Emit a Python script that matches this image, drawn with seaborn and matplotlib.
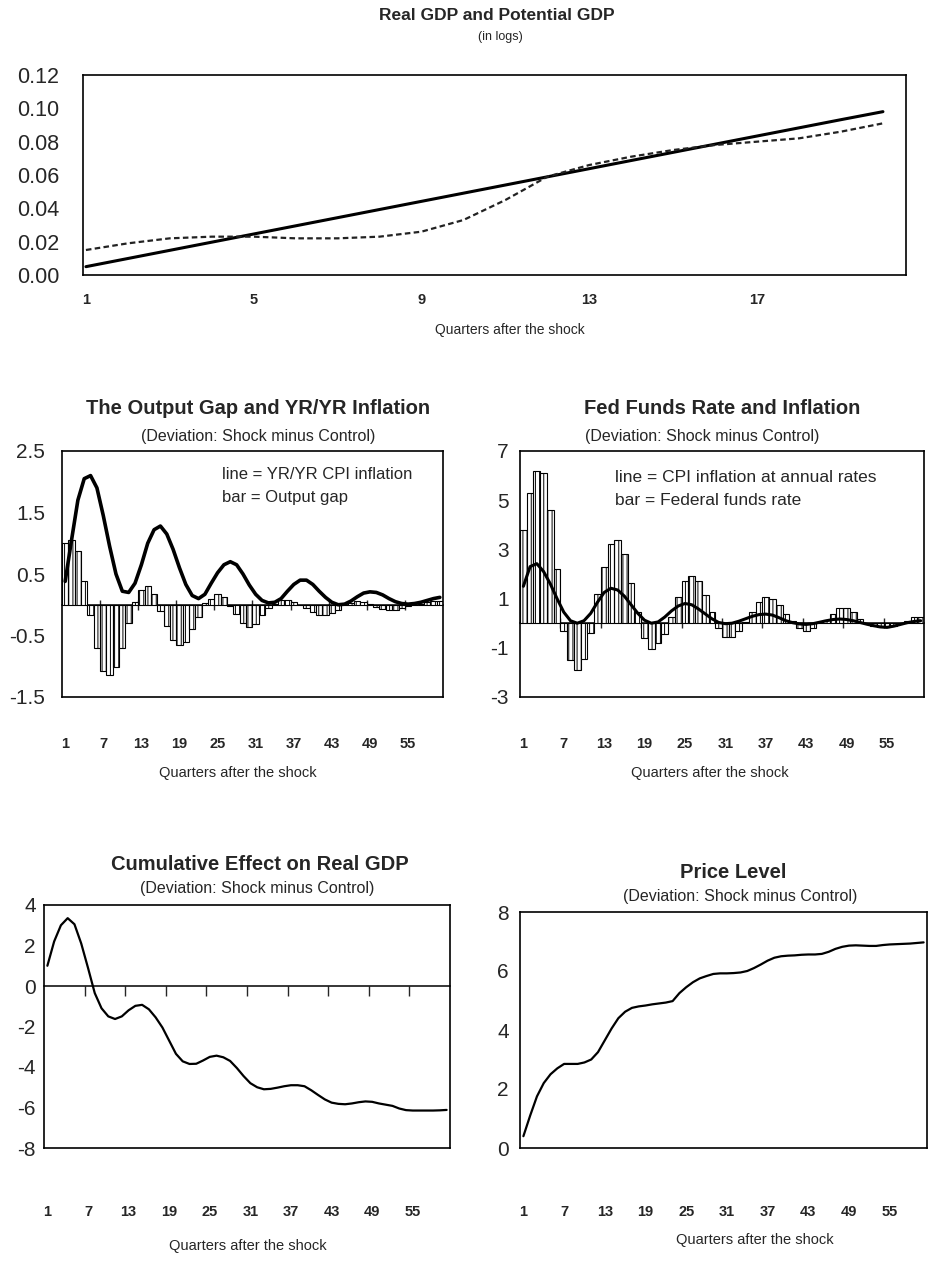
import matplotlib
matplotlib.use("Agg")
import matplotlib.pyplot as plt
import seaborn as sns
from matplotlib.ticker import FormatStrFormatter, FixedLocator

# ---------------- data ----------------
top_quarters = list(range(1, 21))
potential_gdp = [0.005, 0.0099, 0.0148, 0.0197, 0.0246, 0.0295, 0.0344, 0.0393, 0.0442, 0.0491,
                 0.054, 0.0589, 0.0638, 0.0687, 0.0736, 0.0785, 0.0834, 0.0883, 0.0932, 0.098]
real_gdp = [0.015, 0.019, 0.022, 0.023, 0.023, 0.022, 0.022, 0.023, 0.026, 0.033,
            0.045, 0.059, 0.066, 0.071, 0.075, 0.078, 0.080, 0.082, 0.086, 0.091]
top_tick_labels = ["1", "5", "9", "13", "17"]

quarters = list(range(1, 61))
quarter_tick_labels = ["1", "7", "13", "19", "25", "31", "37", "43", "49", "55"]

output_gap = [1.0, 1.05, 0.88, 0.38, -0.17, -0.7, -1.07, -1.15, -1.02, -0.7,
              -0.3, 0.05, 0.24, 0.3, 0.17, -0.1, -0.34, -0.58, -0.65, -0.6,
              -0.4, -0.2, 0.03, 0.1, 0.17, 0.13, -0.02, -0.15, -0.29, -0.36,
              -0.32, -0.16, -0.05, 0.02, 0.07, 0.08, 0.05, 0.0, -0.05, -0.11,
              -0.16, -0.17, -0.14, -0.08, -0.01, 0.03, 0.06, 0.05, 0.01, -0.03,
              -0.07, -0.08, -0.08, -0.05, -0.02, 0.0, 0.02, 0.04, 0.06, 0.06]
yy_cpi_inflation = [0.38, 1.05, 1.7, 2.05, 2.1, 1.9, 1.45, 0.95, 0.5, 0.22,
                    0.2, 0.35, 0.65, 1.0, 1.22, 1.28, 1.15, 0.9, 0.6, 0.33,
                    0.15, 0.1, 0.17, 0.35, 0.52, 0.65, 0.7, 0.65, 0.5, 0.32,
                    0.17, 0.07, 0.03, 0.04, 0.1, 0.22, 0.33, 0.4, 0.4, 0.33,
                    0.22, 0.12, 0.04, 0.0, 0.01, 0.06, 0.13, 0.19, 0.21, 0.2,
                    0.16, 0.1, 0.05, 0.02, 0.01, 0.02, 0.04, 0.07, 0.1, 0.12]
fed_funds = [3.8, 5.3, 6.2, 6.1, 4.6, 2.2, -0.3, -1.5, -1.9, -1.45,
             -0.4, 1.2, 2.3, 3.2, 3.4, 2.8, 1.65, 0.45, -0.6, -1.05,
             -0.8, -0.45, 0.25, 1.05, 1.7, 1.9, 1.7, 1.15, 0.45, -0.18,
             -0.55, -0.55, -0.3, 0.05, 0.45, 0.85, 1.07, 0.97, 0.76, 0.37,
             0.1, -0.18, -0.32, -0.18, 0.05, 0.15, 0.37, 0.6, 0.6, 0.45,
             0.17, 0.0, -0.1, -0.15, -0.15, -0.1, 0.0, 0.1, 0.26, 0.26]
cpi_annual = [1.5, 2.3, 2.42, 2.1, 1.6, 1.0, 0.45, 0.1, 0.0, 0.1,
              0.4, 0.85, 1.25, 1.42, 1.35, 1.1, 0.75, 0.4, 0.12, 0.0,
              0.05, 0.25, 0.5, 0.7, 0.8, 0.75, 0.58, 0.38, 0.18, 0.03,
              -0.02, 0.0, 0.08, 0.18, 0.28, 0.35, 0.37, 0.33, 0.22, 0.1,
              0.02, -0.03, -0.05, -0.02, 0.04, 0.1, 0.15, 0.17, 0.15, 0.1,
              0.03, -0.04, -0.1, -0.15, -0.17, -0.12, -0.05, 0.02, 0.07, 0.1]
cumulative_gdp = [1.0, 2.2, 3.0, 3.35, 3.05, 2.1, 0.9, -0.35, -1.1, -1.5,
                  -1.63, -1.5, -1.2, -0.98, -0.93, -1.15, -1.55, -2.05, -2.7, -3.35,
                  -3.72, -3.85, -3.84, -3.68, -3.5, -3.44, -3.52, -3.7, -4.05, -4.45,
                  -4.8, -5.0, -5.1, -5.08, -5.02, -4.95, -4.9, -4.9, -4.95, -5.15,
                  -5.38, -5.6, -5.76, -5.82, -5.84, -5.8, -5.74, -5.7, -5.72, -5.8,
                  -5.86, -5.92, -6.05, -6.13, -6.15, -6.15, -6.15, -6.15, -6.14, -6.12]
price_level = [0.4, 1.1, 1.75, 2.2, 2.5, 2.7, 2.85, 2.85, 2.85, 2.9,
               3.0, 3.25, 3.65, 4.05, 4.4, 4.62, 4.75, 4.8, 4.83, 4.87,
               4.9, 4.93, 4.98, 5.25, 5.45, 5.62, 5.75, 5.83, 5.9, 5.92,
               5.92, 5.93, 5.95, 6.0, 6.1, 6.22, 6.35, 6.45, 6.5, 6.52,
               6.53, 6.55, 6.56, 6.56, 6.58, 6.65, 6.75, 6.82, 6.86, 6.87,
               6.86, 6.85, 6.85, 6.88, 6.9, 6.91, 6.92, 6.93, 6.95, 6.97]

# ---------------- style ----------------
sns.set_style("white")
plt.rcParams["font.family"] = ["Liberation Sans", "DejaVu Sans"]
plt.rcParams["hatch.linewidth"] = 0.7
plt.rcParams["axes.edgecolor"] = "black"
plt.rcParams["axes.linewidth"] = 1.2
plt.rcParams["axes.unicode_minus"] = False

W, H = 929, 1269
fig = plt.figure(figsize=(W / 100, H / 100), dpi=100)


def box(l, t, r, b):
    return [l / W, 1 - b / H, (r - l) / W, (b - t) / H]


def ftext(x, y, s, **kw):
    fig.text(x / W, 1 - y / H, s, ha="center", va="center", **kw)


TITLE = dict(fontsize=14.5, fontweight="bold")
SUB = dict(fontsize=11.5)
boundaries = [6.5, 12.5, 18.5, 24.5, 30.5, 36.5, 42.5, 48.5, 54.5]
label_pos = [1, 7, 13, 19, 25, 31, 37, 43, 49, 55]


def quarter_axis(ax, pad):
    ax.set_xlim(0.5, 60.5)
    ax.set_xticks(label_pos, quarter_tick_labels)
    ax.tick_params(axis="x", length=0, pad=pad, labelsize=10.5)
    for lab in ax.get_xticklabels():
        lab.set_fontweight("bold")


def zero_line(ax, frac, direction):
    sec = ax.secondary_xaxis(frac)
    sec.set_xticks(boundaries)
    sec.tick_params(axis="x", direction=direction, length=7, width=1,
                    labelbottom=False, labeltop=False)
    for sp in sec.spines.values():
        sp.set_linewidth(1.1)
    return sec


# ---------------- top: real vs potential GDP ----------------
ax0 = fig.add_axes(box(83, 75, 906, 275))
sns.lineplot(x=top_quarters, y=potential_gdp, ax=ax0, color="black", linewidth=2.2)
sns.lineplot(x=top_quarters, y=real_gdp, ax=ax0, color="#222222", linewidth=1.6,
             linestyle=(0, (2.5, 1.5)))
ax0.set_xlim(0.93, 20.55)
ax0.set_ylim(0, 0.12)
ax0.set_yticks([0, 0.02, 0.04, 0.06, 0.08, 0.10, 0.12])
ax0.yaxis.set_major_formatter(FormatStrFormatter("%.2f"))
ax0.tick_params(axis="y", direction="out", length=5, width=1, labelsize=15.5, pad=12)
ax0.set_xticks([1, 5, 9, 13, 17], top_tick_labels)
ax0.tick_params(axis="x", direction="out", length=7, width=1, labelsize=10.5, pad=6)
for lab in ax0.get_xticklabels():
    lab.set_fontweight("bold")
ax0.set_xlabel("Quarters after the shock", fontsize=10)
ax0.xaxis.set_label_coords(0.519, -0.24)
ax0.set_ylabel("")
ftext(497, 15, "Real GDP and Potential GDP", fontsize=12.5, fontweight="bold")
ftext(500, 37, "(in logs)", fontsize=9)

# ---------------- middle left: output gap & YR/YR inflation ----------------
ax1 = fig.add_axes(box(62, 451, 443, 697))
sns.barplot(x=quarters, y=output_gap, ax=ax1, native_scale=True, width=1.0,
            color="white", saturation=1, edgecolor="black", linewidth=0.8,
            hatch="||||", errorbar=None, zorder=2)
sns.lineplot(x=quarters, y=yy_cpi_inflation, ax=ax1, color="black", linewidth=2.6, zorder=3)
ax1.set_ylim(-1.5, 2.5)
ax1.set_yticks([-1.5, -0.5, 0.5, 1.5, 2.5], ["-1.5", "-0.5", "0.5", "1.5", "2.5"])
ax1.tick_params(axis="y", direction="inout", length=6, width=1, labelsize=15, pad=9)
quarter_axis(ax1, pad=29)
zero_line(ax1, 1.5 / 4.0, "inout")
ax1.set_xlabel("Quarters after the shock", fontsize=10.5)
ax1.xaxis.set_label_coords(0.462, -0.28)
ax1.set_ylabel("")
ax1.text(0.42, 0.905, "line = YR/YR CPI inflation", transform=ax1.transAxes,
         fontsize=12, va="center", ha="left")
ax1.text(0.42, 0.812, "bar = Output gap", transform=ax1.transAxes,
         fontsize=12, va="center", ha="left")
ftext(258, 409, "The Output Gap and YR/YR Inflation", **TITLE)
ftext(258, 436, "(Deviation: Shock minus Control)", **SUB)

# ---------------- middle right: fed funds & inflation ----------------
ax2 = fig.add_axes(box(520, 451, 924, 697))
sns.barplot(x=quarters, y=fed_funds, ax=ax2, native_scale=True, width=1.0,
            color="white", saturation=1, edgecolor="black", linewidth=0.8,
            hatch="||||", errorbar=None, zorder=2)
sns.lineplot(x=quarters, y=cpi_annual, ax=ax2, color="black", linewidth=2.2, zorder=3)
ax2.set_ylim(-3, 7)
ax2.set_yticks([-3, -1, 1, 3, 5, 7])
ax2.tick_params(axis="y", direction="inout", length=6, width=1, labelsize=15, pad=5)
quarter_axis(ax2, pad=29)
zero_line(ax2, 0.3, "inout")
ax2.set_xlabel("Quarters after the shock", fontsize=10.5)
ax2.xaxis.set_label_coords(0.47, -0.28)
ax2.set_ylabel("")
ax2.text(0.235, 0.894, "line = CPI inflation at annual rates", transform=ax2.transAxes,
         fontsize=12.5, va="center", ha="left")
ax2.text(0.235, 0.80, "bar = Federal funds rate", transform=ax2.transAxes,
         fontsize=12.5, va="center", ha="left")
ftext(722, 409, "Fed Funds Rate and Inflation", **TITLE)
ftext(702, 436, "(Deviation: Shock minus Control)", **SUB)

# ---------------- bottom left: cumulative effect ----------------
ax3 = fig.add_axes(box(44, 905, 450, 1148))
sns.lineplot(x=quarters, y=cumulative_gdp, ax=ax3, color="black", linewidth=1.6)
ax3.set_ylim(-8, 4)
ax3.set_yticks([-8, -6, -4, -2, 0, 2, 4])
ax3.tick_params(axis="y", direction="inout", length=6, width=1, labelsize=15, pad=3)
quarter_axis(ax3, pad=41)
zero_line(ax3, 8.0 / 12.0, "in")
ax3.set_xlabel("Quarters after the shock", fontsize=10.5)
ax3.xaxis.set_label_coords(0.502, -0.375)
ax3.set_ylabel("")
ftext(260, 864, "Cumulative Effect on Real GDP", **TITLE)
ftext(257, 889, "(Deviation: Shock minus Control)", **SUB)

# ---------------- bottom right: price level ----------------
ax4 = fig.add_axes(box(520, 912, 927, 1148))
sns.lineplot(x=quarters, y=price_level, ax=ax4, color="black", linewidth=1.6)
ax4.set_ylim(0, 8)
ax4.set_yticks([0, 2, 4, 6, 8])
ax4.tick_params(axis="y", direction="inout", length=6, width=1, labelsize=15, pad=5)
quarter_axis(ax4, pad=41)
ax4.xaxis.set_minor_locator(FixedLocator([0.5] + boundaries))
ax4.tick_params(axis="x", which="minor", direction="inout", length=9, width=1)
ax4.set_xlabel("Quarters after the shock", fontsize=10.5)
ax4.xaxis.set_label_coords(0.577, -0.36)
ax4.set_ylabel("")
ftext(733, 873, "Price Level", **TITLE)
ftext(740, 896, "(Deviation: Shock minus Control)", **SUB)

fig.savefig("out.png", dpi=100)
